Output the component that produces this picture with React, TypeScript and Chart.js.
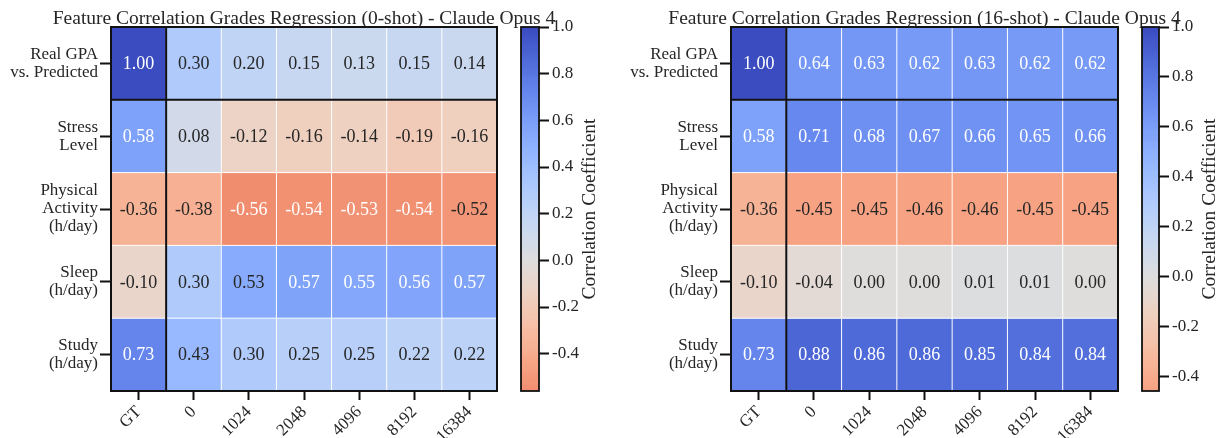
import React, { useEffect, useRef } from "react";
import { Chart, registerables } from "chart.js";

Chart.register(...registerables);

// ---------------- data ----------------
const COLUMN_LABELS = ["GT", "0", "1024", "2048", "4096", "8192", "16384"];
const ROW_LABELS = [
  ["Real GPA", "vs. Predicted"],
  ["Stress", "Level"],
  ["Physical", "Activity", "(h/day)"],
  ["Sleep", "(h/day)"],
  ["Study", "(h/day)"],
];

const ZERO_SHOT_TITLE = "Feature Correlation Grades Regression (0-shot) - Claude Opus 4";
const ZERO_SHOT_REAL_GPA = [1.0, 0.3, 0.2, 0.15, 0.13, 0.15, 0.14];
const ZERO_SHOT_STRESS = [0.58, 0.08, -0.12, -0.16, -0.14, -0.19, -0.16];
const ZERO_SHOT_PHYSICAL = [-0.36, -0.38, -0.56, -0.54, -0.53, -0.54, -0.52];
const ZERO_SHOT_SLEEP = [-0.1, 0.3, 0.53, 0.57, 0.55, 0.56, 0.57];
const ZERO_SHOT_STUDY = [0.73, 0.43, 0.3, 0.25, 0.25, 0.22, 0.22];

const SIXTEEN_SHOT_TITLE = "Feature Correlation Grades Regression (16-shot) - Claude Opus 4";
const SIXTEEN_SHOT_REAL_GPA = [1.0, 0.64, 0.63, 0.62, 0.63, 0.62, 0.62];
const SIXTEEN_SHOT_STRESS = [0.58, 0.71, 0.68, 0.67, 0.66, 0.65, 0.66];
const SIXTEEN_SHOT_PHYSICAL = [-0.36, -0.45, -0.45, -0.46, -0.46, -0.45, -0.45];
const SIXTEEN_SHOT_SLEEP = [-0.1, -0.04, 0.0, 0.0, 0.01, 0.01, 0.0];
const SIXTEEN_SHOT_STUDY = [0.73, 0.88, 0.86, 0.86, 0.85, 0.84, 0.84];

const COLORBAR_TICKS = [-0.4, -0.2, 0.0, 0.2, 0.4, 0.6, 0.8, 1.0];
const COLORBAR_LABEL = "Correlation Coefficient";

// ---------------- style ----------------
const FONT = "'Liberation Serif', 'Times New Roman', serif";
const TEXT = "#262626";
const INK = "#111111";

// matplotlib coolwarm control points (33 stops)
const COOLWARM = [
  [59, 76, 192], [68, 90, 204], [77, 104, 215], [87, 117, 225], [98, 130, 234],
  [108, 142, 241], [119, 154, 247], [130, 165, 251], [141, 176, 254], [152, 185, 255],
  [163, 194, 255], [174, 201, 253], [184, 208, 249], [194, 213, 244], [204, 217, 238],
  [213, 219, 230], [221, 221, 221], [229, 216, 209], [236, 211, 197], [241, 204, 184],
  [245, 196, 173], [247, 187, 160], [247, 177, 148], [247, 166, 135], [244, 154, 123],
  [241, 141, 111], [236, 127, 99], [229, 112, 88], [222, 96, 77], [213, 80, 66],
  [203, 62, 56], [192, 40, 47], [180, 4, 38],
];

function coolwarm(p: number): number[] {
  const t = Math.min(1, Math.max(0, p)) * (COOLWARM.length - 1);
  const i = Math.min(COOLWARM.length - 2, Math.floor(t));
  const f = t - i;
  const a = COOLWARM[i];
  const b = COOLWARM[i + 1];
  return [0, 1, 2].map((k) => a[k] + (b[k] - a[k]) * f);
}

// seaborn-style centered (0) reversed coolwarm, resampled on [vmin, vmax]
function cellRgb(v: number, vmin: number, vmax: number): number[] {
  const vrange = Math.max(vmax, -vmin);
  const cmin = (vmin + vrange) / (2 * vrange);
  const cmax = (vmax + vrange) / (2 * vrange);
  const n = (v - vmin) / (vmax - vmin);
  const i = Math.max(0, Math.min(255, Math.floor(n * 256)));
  const cc = cmin + ((cmax - cmin) * i) / 255;
  const j = Math.max(0, Math.min(255, Math.floor(cc * 256)));
  return coolwarm((255 - j) / 255);
}

function rgbStr(c: number[]): string {
  return `rgb(${Math.round(c[0])},${Math.round(c[1])},${Math.round(c[2])})`;
}

function luminance(c: number[]): number {
  const lin = c.map((x) => {
    const s = x / 255;
    return s <= 0.03928 ? s / 12.92 : Math.pow((s + 0.055) / 1.055, 2.4);
  });
  return 0.2126 * lin[0] + 0.7152 * lin[1] + 0.0722 * lin[2];
}

function makeHeatmap(
  canvas: HTMLCanvasElement,
  rows: number[][],
  title: string,
  vmin: number,
  vmax: number,
  yAxisWidth: number,
  padRight: number
) {
  const datasets = rows.map((vals, r) => ({
    label: ROW_LABELS[r].join(" "),
    data: vals.map(() => [r - 0.5, r + 0.5]),
    backgroundColor: vals.map((v) => rgbStr(cellRgb(v, vmin, vmax))),
    borderWidth: 0,
    grouped: false,
    barPercentage: 1,
    categoryPercentage: 1,
  }));

  const overlay = {
    id: "heatmapOverlay",
    afterDatasetsDraw(chart: any) {
      const { ctx, chartArea, scales } = chart;
      const xs = scales.x;
      const ys = scales.y;
      const { left, right, top, bottom } = chartArea;
      const xb = (c: number) => (xs.getPixelForValue(c - 1) + xs.getPixelForValue(c)) / 2;
      const yb = (r: number) => ys.getPixelForValue(r - 0.5);
      ctx.save();
      // white cell separators
      ctx.strokeStyle = "#ffffff";
      ctx.lineWidth = 1;
      ctx.beginPath();
      for (let c = 1; c < COLUMN_LABELS.length; c++) {
        const x = xb(c);
        ctx.moveTo(x, top);
        ctx.lineTo(x, bottom);
      }
      for (let r = 1; r < rows.length; r++) {
        const y = yb(r);
        ctx.moveTo(left, y);
        ctx.lineTo(right, y);
      }
      ctx.stroke();
      // thick black separators
      ctx.strokeStyle = INK;
      ctx.lineWidth = 2;
      ctx.beginPath();
      const gx = xb(1);
      ctx.moveTo(gx, top);
      ctx.lineTo(gx, bottom);
      const gy = yb(1);
      ctx.moveTo(left, gy);
      ctx.lineTo(right, gy);
      ctx.stroke();
      ctx.strokeRect(left, top, right - left, bottom - top);
      // annotations
      ctx.font = `18px ${FONT}`;
      ctx.textAlign = "center";
      ctx.textBaseline = "middle";
      rows.forEach((vals, r) => {
        vals.forEach((v, c) => {
          const col = cellRgb(v, vmin, vmax);
          ctx.fillStyle = luminance(col) > 0.409 ? TEXT : "#ffffff";
          ctx.fillText(v.toFixed(2), xs.getPixelForValue(c), ys.getPixelForValue(r) + 1);
        });
      });
      // title
      ctx.fillStyle = TEXT;
      ctx.font = `19.5px ${FONT}`;
      ctx.textBaseline = "alphabetic";
      ctx.fillText(title, (left + right) / 2, top - 3);
      ctx.restore();
    },
  };

  return new Chart(canvas, {
    type: "bar",
    data: { labels: COLUMN_LABELS, datasets },
    plugins: [overlay],
    options: {
      responsive: false,
      animation: false,
      devicePixelRatio: 1,
      events: [],
      layout: { padding: { top: 27, right: padRight, bottom: 0, left: 0 } },
      plugins: { legend: { display: false }, title: { display: false }, tooltip: { enabled: false } },
      scales: {
        x: {
          type: "category",
          offset: true,
          grid: {
            display: true,
            offset: false,
            drawOnChartArea: false,
            drawTicks: true,
            tickLength: 9,
            tickWidth: 2,
            tickColor: INK,
          },
          border: { display: false },
          ticks: {
            autoSkip: false,
            maxRotation: 45,
            minRotation: 45,
            padding: 2,
            color: TEXT,
            font: { family: FONT, size: 17 },
          },
          afterFit: (s: any) => {
            s.height = 47;
          },
        },
        y: {
          type: "linear",
          reverse: true,
          min: -0.5,
          max: rows.length - 0.5,
          afterBuildTicks: (s: any) => {
            s.ticks = ROW_LABELS.map((_, i) => ({ value: i }));
          },
          grid: {
            display: true,
            drawOnChartArea: false,
            drawTicks: true,
            tickLength: 11,
            tickWidth: 2,
            tickColor: INK,
          },
          border: { display: false },
          ticks: {
            padding: 2,
            color: TEXT,
            font: { family: FONT, size: 17, lineHeight: 1.06 },
            callback: (v: any) => ROW_LABELS[Math.round(Number(v))] || "",
          },
          afterFit: (s: any) => {
            s.width = yAxisWidth;
          },
        },
      },
    } as any,
  });
}

function makeColorbar(
  canvas: HTMLCanvasElement,
  vmin: number,
  vmax: number,
  padLeft: number,
  axisWidth: number
) {
  const overlay = {
    id: "colorbarOverlay",
    afterDatasetsDraw(chart: any) {
      const { ctx, chartArea } = chart;
      const { left, right, top, bottom } = chartArea;
      ctx.save();
      ctx.strokeStyle = INK;
      ctx.lineWidth = 1.8;
      ctx.strokeRect(left, top, right - left, bottom - top);
      ctx.translate(right + 51, (top + bottom) / 2);
      ctx.rotate(-Math.PI / 2);
      ctx.fillStyle = TEXT;
      ctx.font = `19.5px ${FONT}`;
      ctx.textAlign = "center";
      ctx.textBaseline = "middle";
      ctx.fillText(COLORBAR_LABEL, 0, 0);
      ctx.restore();
    },
  };

  return new Chart(canvas, {
    type: "bar",
    data: {
      labels: [""],
      datasets: [
        {
          data: [[vmin, vmax]],
          borderWidth: 0,
          barPercentage: 1,
          categoryPercentage: 1,
          backgroundColor: (c: any) => {
            const chart = c.chart;
            const ys = chart.scales && chart.scales.y;
            if (!chart.chartArea || !ys) return "#dddddd";
            const y0 = ys.getPixelForValue(vmin);
            const y1 = ys.getPixelForValue(vmax);
            const g = chart.ctx.createLinearGradient(0, y0, 0, y1);
            const N = 128;
            for (let i = 0; i <= N; i++) {
              const v = vmin + ((vmax - vmin) * i) / N;
              g.addColorStop(i / N, rgbStr(cellRgb(v, vmin, vmax)));
            }
            return g;
          },
        },
      ],
    },
    plugins: [overlay],
    options: {
      responsive: false,
      animation: false,
      devicePixelRatio: 1,
      events: [],
      layout: { padding: { top: 27, right: 0, bottom: 47, left: padLeft } },
      plugins: { legend: { display: false }, title: { display: false }, tooltip: { enabled: false } },
      scales: {
        x: { display: false },
        y: {
          position: "right",
          min: vmin,
          max: vmax,
          afterBuildTicks: (s: any) => {
            s.ticks = COLORBAR_TICKS.map((v) => ({ value: v }));
          },
          grid: {
            display: true,
            drawOnChartArea: false,
            drawTicks: true,
            tickLength: 10,
            tickWidth: 2,
            tickColor: INK,
          },
          border: { display: false },
          ticks: {
            padding: 3,
            color: TEXT,
            font: { family: FONT, size: 17 },
            callback: (v: any) => Number(v).toFixed(1),
          },
          afterFit: (s: any) => {
            s.width = axisWidth;
          },
        },
      },
    } as any,
  });
}

export default function App() {
  const leftHeat = useRef<HTMLCanvasElement>(null);
  const leftBar = useRef<HTMLCanvasElement>(null);
  const rightHeat = useRef<HTMLCanvasElement>(null);
  const rightBar = useRef<HTMLCanvasElement>(null);

  useEffect(() => {
    const zeroRows = [ZERO_SHOT_REAL_GPA, ZERO_SHOT_STRESS, ZERO_SHOT_PHYSICAL, ZERO_SHOT_SLEEP, ZERO_SHOT_STUDY];
    const sixteenRows = [
      SIXTEEN_SHOT_REAL_GPA,
      SIXTEEN_SHOT_STRESS,
      SIXTEEN_SHOT_PHYSICAL,
      SIXTEEN_SHOT_SLEEP,
      SIXTEEN_SHOT_STUDY,
    ];
    const zMin = Math.min(...zeroRows.flat());
    const zMax = Math.max(...zeroRows.flat());
    const sMin = Math.min(...sixteenRows.flat());
    const sMax = Math.max(...sixteenRows.flat());
    const charts = [
      makeHeatmap(leftHeat.current!, zeroRows, ZERO_SHOT_TITLE, zMin, zMax, 111, 118),
      makeColorbar(leftBar.current!, zMin, zMax, 16, 76),
      makeHeatmap(rightHeat.current!, sixteenRows, SIXTEEN_SHOT_TITLE, sMin, sMax, 119, 107),
      makeColorbar(rightBar.current!, sMin, sMax, 17, 66),
    ];
    return () => charts.forEach((c) => c.destroy());
  }, []);

  return (
    <div style={{ position: "absolute", left: 0, top: 0, width: 1225, height: 438, background: "#ffffff", overflow: "hidden" }}>
      <canvas ref={leftHeat} width={615} height={438} style={{ position: "absolute", left: 0, top: 0 }} />
      <canvas ref={leftBar} width={110} height={438} style={{ position: "absolute", left: 505, top: 0 }} />
      <canvas ref={rightHeat} width={613} height={438} style={{ position: "absolute", left: 612, top: 0 }} />
      <canvas ref={rightBar} width={100} height={438} style={{ position: "absolute", left: 1125, top: 0 }} />
    </div>
  );
}
